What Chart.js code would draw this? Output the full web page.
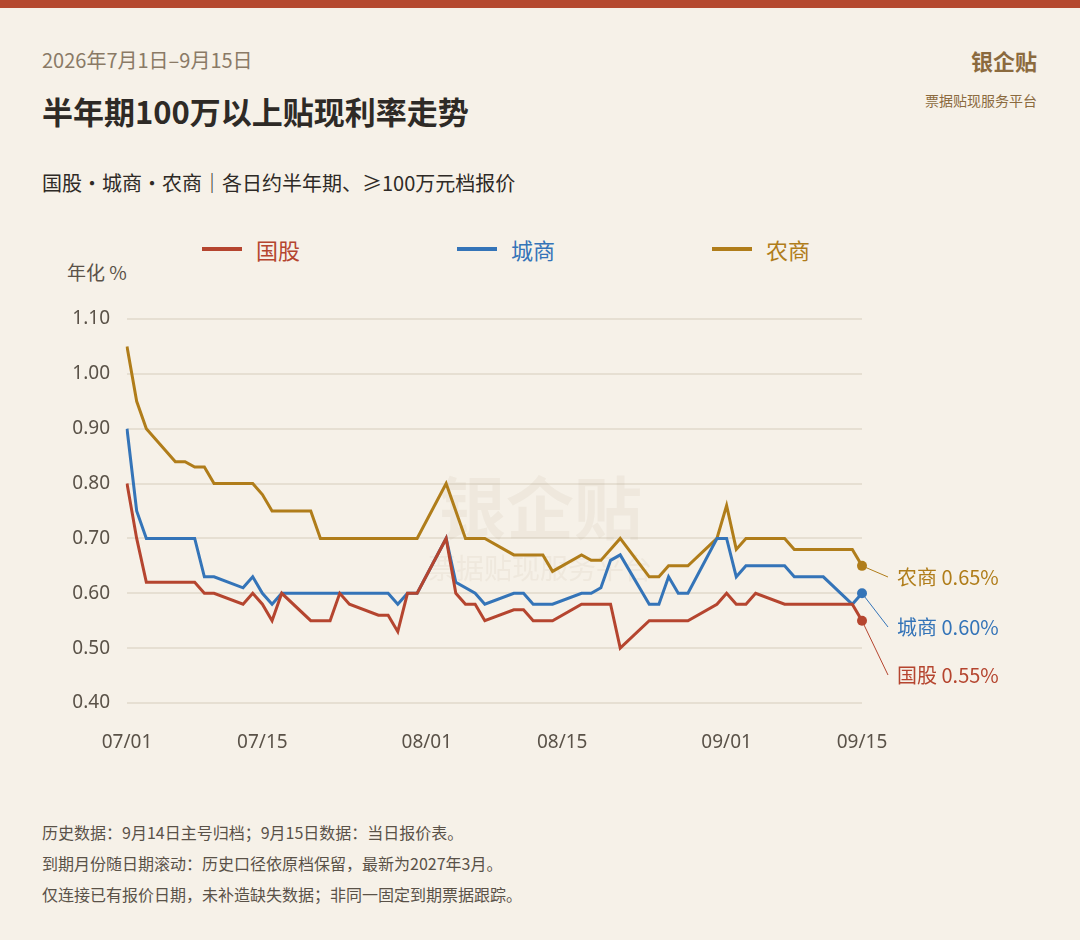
<!DOCTYPE html>
<html>
<head>
<meta charset="UTF-8">
<style>
  body { margin:0; width:1080px; height:940px; background:#f6f1e8; font-family:"Noto Sans CJK SC","Noto Sans",sans-serif; position:relative; overflow:hidden; }
  .bar { position:absolute; left:0; top:0; width:1080px; height:8px; background:#b5492f; }
  .t { position:absolute; white-space:nowrap; }
  #wrap { position:absolute; left:0; top:290px; width:1080px; height:470px; }
  .leg { position:absolute; top:233px; font-size:22px; display:flex; align-items:center; }
  .leg i { display:inline-block; width:40px; height:4px; margin-right:14px; }
</style>
</head>
<body>
<div class="bar"></div>
<div class="t" style="left:42px;top:45px;font-size:20px;color:#8a7a66;">2026年7月1日–9月15日</div>
<div class="t" style="left:42px;top:88px;font-size:31px;font-weight:bold;color:#2e2a26;">半年期100万以上贴现利率走势</div>
<div class="t" style="left:42px;top:168px;font-size:20px;color:#2e2a26;">国股·城商·农商｜各日约半年期、≥100万元档报价</div>
<div class="t" style="right:43px;top:44px;font-size:22px;font-weight:bold;color:#8b6a3e;">银企贴</div>
<div class="t" style="right:43px;top:90px;font-size:14px;color:#8b6a3e;">票据贴现服务平台</div>
<div class="leg" style="left:202px;color:#b5452f;"><i style="background:#b5452f"></i>国股</div>
<div class="leg" style="left:457px;color:#3474b8;"><i style="background:#3474b8"></i>城商</div>
<div class="leg" style="left:712px;color:#b07d1a;"><i style="background:#b07d1a"></i>农商</div>
<div class="t" style="left:67px;top:258px;font-size:19px;color:#5a5248;">年化 %</div>
<div id="wrap"><canvas id="c"></canvas></div>
<div class="t" style="left:42px;top:817px;font-size:16px;color:#5a5248;line-height:31px;">
历史数据：9月14日主号归档；9月15日数据：当日报价表。<br>
到期月份随日期滚动：历史口径依原档保留，最新为2027年3月。<br>
仅连接已有报价日期，未补造缺失数据；非同一固定到期票据跟踪。
</div>
<script src="https://cdn.jsdelivr.net/npm/chart.js"></script>
<script>
// 日期（07/01 起，共 77 天）
const days = [];
for (let d = new Date(2026, 6, 1); d <= new Date(2026, 8, 15); d.setDate(d.getDate() + 1)) {
  days.push(String(d.getMonth() + 1).padStart(2, '0') + '/' + String(d.getDate()).padStart(2, '0'));
}
const tickDays = ['07/01', '07/15', '08/01', '08/15', '09/01', '09/15'];

// [日序号, 利率]
const guogu = [[0,0.80],[1,0.70],[2,0.62],[7,0.62],[8,0.60],[9,0.60],[12,0.58],[13,0.60],[14,0.58],[15,0.55],[16,0.60],[19,0.55],[21,0.55],[22,0.60],[23,0.58],[26,0.56],[27,0.56],[28,0.53],[29,0.60],[30,0.60],[33,0.70],[34,0.60],[35,0.58],[36,0.58],[37,0.55],[40,0.57],[41,0.57],[42,0.55],[44,0.55],[47,0.58],[50,0.58],[51,0.50],[54,0.55],[58,0.55],[61,0.58],[62,0.60],[63,0.58],[64,0.58],[65,0.60],[68,0.58],[75,0.58],[76,0.55]];
const chengshang = [[0,0.90],[1,0.75],[2,0.70],[7,0.70],[8,0.63],[9,0.63],[12,0.61],[13,0.63],[14,0.60],[15,0.58],[16,0.60],[27,0.60],[28,0.58],[29,0.60],[30,0.60],[33,0.70],[34,0.62],[36,0.60],[37,0.58],[40,0.60],[41,0.60],[42,0.58],[44,0.58],[47,0.60],[48,0.60],[49,0.61],[50,0.66],[51,0.67],[54,0.58],[55,0.58],[56,0.63],[57,0.60],[58,0.60],[61,0.70],[62,0.70],[63,0.63],[64,0.65],[68,0.65],[69,0.63],[72,0.63],[75,0.58],[76,0.60]];
const nongshang = [[0,1.05],[1,0.95],[2,0.90],[5,0.84],[6,0.84],[7,0.83],[8,0.83],[9,0.80],[13,0.80],[14,0.78],[15,0.75],[19,0.75],[20,0.70],[30,0.70],[33,0.80],[35,0.70],[37,0.70],[40,0.67],[43,0.67],[44,0.64],[47,0.67],[48,0.66],[49,0.66],[51,0.70],[54,0.63],[55,0.63],[56,0.65],[58,0.65],[61,0.70],[62,0.76],[63,0.68],[64,0.70],[68,0.70],[69,0.68],[75,0.68],[76,0.65]];

const fill = pts => { const a = Array(days.length).fill(null); pts.forEach(([i, v]) => a[i] = v); return a; };

const series = [
  { name: '国股', pts: guogu, color: '#b5452f', ly: 675 - 290 },
  { name: '城商', pts: chengshang, color: '#3474b8', ly: 627 - 290 },
  { name: '农商', pts: nongshang, color: '#b07d1a', ly: 577 - 290 }
];

const watermark = {
  id: 'wm',
  beforeDatasetsDraw(chart) {
    const ctx = chart.ctx;
    ctx.save();
    ctx.fillStyle = 'rgba(180,165,140,0.11)';
    ctx.textAlign = 'center';
    ctx.textBaseline = 'middle';
    ctx.font = 'bold 68px "Noto Sans CJK SC"';
    ctx.fillText('银企贴', 540, 218);
    ctx.font = '28px "Noto Sans CJK SC"';
    ctx.fillText('票据贴现服务平台', 540, 278);
    ctx.restore();
  }
};

const endLabels = {
  id: 'endLabels',
  afterDatasetsDraw(chart) {
    const ctx = chart.ctx;
    ctx.save();
    chart.data.datasets.forEach((ds, k) => {
      const s = series[k];
      const pt = chart.getDatasetMeta(k).data[days.length - 1];
      ctx.strokeStyle = s.color;
      ctx.lineWidth = 1;
      ctx.beginPath();
      ctx.moveTo(pt.x, pt.y);
      ctx.lineTo(888, s.ly);
      ctx.stroke();
      ctx.fillStyle = s.color;
      ctx.beginPath();
      ctx.arc(pt.x, pt.y, 5, 0, Math.PI * 2);
      ctx.fill();
      ctx.font = '20px "Noto Sans CJK SC"';
      ctx.textBaseline = 'middle';
      ctx.fillText(s.name + ' ' + ds.data[days.length - 1].toFixed(2) + '%', 897, s.ly);
    });
    ctx.restore();
  }
};

new Chart(document.getElementById('c'), {
  type: 'line',
  data: {
    labels: days,
    datasets: series.map(s => ({
      label: s.name, data: fill(s.pts), borderColor: s.color, borderWidth: 3,
      pointRadius: 0, spanGaps: true, tension: 0
    }))
  },
  options: {
    responsive: true, maintainAspectRatio: false, animation: false,
    layout: { padding: { left: 0, right: 218, top: 29, bottom: 0 } },
    plugins: { legend: { display: false }, tooltip: { enabled: false } },
    scales: {
      x: {
        grid: { display: false }, border: { display: false },
        afterFit: sc => { sc.height = 57; },
        ticks: {
          autoSkip: false, maxRotation: 0, color: '#5a5248', font: { size: 19, family: 'Noto Sans' }, padding: 20,
          callback: (v, i) => tickDays.includes(days[i]) ? days[i] : ''
        }
      },
      y: {
        min: 0.4, max: 1.1,
        grid: { color: '#e6dfd2', lineWidth: 2, drawTicks: false }, border: { display: false },
        afterFit: sc => { sc.width = 127; },
        ticks: { stepSize: 0.1, padding: 17, color: '#5a5248', font: { size: 19, family: 'Noto Sans' }, callback: v => v.toFixed(2) }
      }
    }
  },
  plugins: [watermark, endLabels]
});
</script>
</body>
</html>
